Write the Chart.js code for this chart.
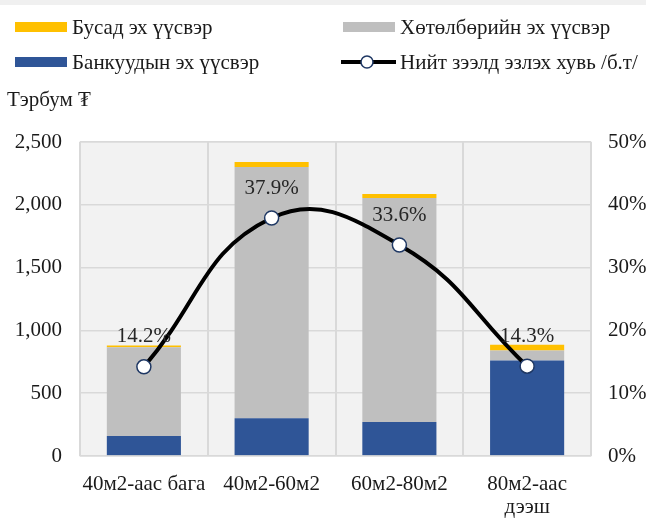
<!DOCTYPE html>
<html>
<head>
<meta charset="utf-8">
<script src="https://cdn.jsdelivr.net/npm/chart.js@4"></script>
<style>
  body { margin: 0; background: #fff; }
  #wrap { position: relative; width: 646px; height: 520px; }
  #topstrip { position: absolute; left: 0; top: 0; width: 646px; height: 5px; background: #f0f0f0; }
</style>
</head>
<body>
<div id="wrap">
  <canvas id="housingChart" width="646" height="520"></canvas>
  <div id="topstrip"></div>
</div>
<script>
const categories = ['40м2-аас бага', '40м2-60м2', '60м2-80м2', ['80м2-аас', 'дээш']];
const bankSource = [160, 300, 270, 760];
const programSource = [705, 2000, 1785, 80];
const otherSource = [15, 40, 30, 45];
const loanShare = [14.2, 37.9, 33.6, 14.3];
const unitLabel = 'Тэрбум ₮';

const serif = 'Liberation Serif';
const textFont = '21px "Liberation Serif", "DejaVu Serif", serif';

const plotBackground = {
    id: 'plotBackground',
    beforeDraw(chart) {
        const { ctx, chartArea: a } = chart;
        ctx.save();
        ctx.fillStyle = '#f2f2f2';
        ctx.fillRect(a.left, a.top, a.right - a.left, a.bottom - a.top);
        ctx.restore();
    },
    afterDraw(chart) {
        const { ctx, chartArea: a } = chart;
        ctx.save();
        ctx.strokeStyle = '#d9d9d9';
        ctx.lineWidth = 1;
        ctx.strokeRect(a.left, a.top, a.right - a.left, a.bottom - a.top);
        ctx.restore();
    }
};

// legend in two columns + unit caption, drawn on the canvas
const sideLegend = {
    id: 'sideLegend',
    afterDraw(chart) {
        const ctx = chart.ctx;
        const ds = chart.data.datasets;
        const items = [
            { ds: ds[2], x: 15, y: 27 },
            { ds: ds[1], x: 343, y: 27 },
            { ds: ds[0], x: 15, y: 62 },
            { ds: ds[3], x: 343, y: 62 }
        ];
        ctx.save();
        ctx.font = textFont;
        ctx.textBaseline = 'middle';
        items.forEach(it => {
            if (it.ds.type === 'line') {
                ctx.strokeStyle = '#000';
                ctx.lineWidth = 3.8;
                ctx.beginPath();
                ctx.moveTo(it.x - 2, it.y);
                ctx.lineTo(it.x + 53, it.y);
                ctx.stroke();
                ctx.beginPath();
                ctx.arc(it.x + 24, it.y, 6, 0, Math.PI * 2);
                ctx.fillStyle = '#fff';
                ctx.fill();
                ctx.strokeStyle = '#1f3864';
                ctx.lineWidth = 1.5;
                ctx.stroke();
            } else {
                ctx.fillStyle = it.ds.backgroundColor;
                ctx.fillRect(it.x, it.y - 5, 52, 10);
            }
            ctx.fillStyle = '#1a1a1a';
            ctx.fillText(it.ds.label, it.x + 57, it.y + 1);
        });
        ctx.fillText(unitLabel, 7, 100);
        ctx.restore();
    }
};

const shareLabels = {
    id: 'shareLabels',
    afterDatasetsDraw(chart) {
        const meta = chart.getDatasetMeta(3);
        const ctx = chart.ctx;
        ctx.save();
        ctx.font = textFont;
        ctx.fillStyle = '#262626';
        ctx.textAlign = 'center';
        ctx.textBaseline = 'middle';
        meta.data.forEach((pt, i) => {
            ctx.fillText(loanShare[i].toFixed(1) + '%', pt.x, pt.y - 30);
        });
        ctx.restore();
    }
};

new Chart(document.getElementById('housingChart'), {
    type: 'bar',
    data: {
        labels: categories,
        datasets: [
            { label: 'Банкуудын эх үүсвэр', data: bankSource, backgroundColor: '#2F5597', order: 1, yAxisID: 'y' },
            { label: 'Хөтөлбөрийн эх үүсвэр', data: programSource, backgroundColor: '#BFBFBF', order: 2, yAxisID: 'y' },
            { label: 'Бусад эх үүсвэр', data: otherSource, backgroundColor: '#FFC000', order: 3, yAxisID: 'y' },
            {
                type: 'line',
                label: 'Нийт зээлд эзлэх хувь /б.т/',
                data: loanShare,
                yAxisID: 'y1',
                order: 0,
                borderColor: '#000',
                borderWidth: 4,
                tension: 0.45,
                pointRadius: 7,
                pointBackgroundColor: '#fff',
                pointBorderColor: '#1f3864',
                pointBorderWidth: 1.5
            }
        ]
    },
    options: {
        responsive: false,
        animation: false,
        layout: { padding: { top: 142, left: 0, right: 0, bottom: 0 } },
        datasets: { bar: { barPercentage: 0.58, categoryPercentage: 1 } },
        plugins: { legend: { display: false }, tooltip: { enabled: false } },
        scales: {
            x: {
                stacked: true,
                afterFit(s) { s.height = 64; },
                grid: { color: '#d9d9d9', lineWidth: 2, drawTicks: false },
                border: { display: false },
                ticks: {
                    color: '#1a1a1a', font: { family: serif, size: 21, lineHeight: 1.1 },
                    padding: 17, maxRotation: 0, autoSkip: false
                }
            },
            y: {
                stacked: true,
                min: 0, max: 2500,
                afterFit(s) { s.width = 80; },
                grid: { color: '#d9d9d9', lineWidth: 1.5, drawTicks: false },
                border: { display: false },
                ticks: {
                    stepSize: 500, padding: 18, color: '#1a1a1a',
                    font: { family: serif, size: 21 },
                    callback: v => v.toLocaleString('en-US')
                }
            },
            y1: {
                position: 'right',
                min: 0, max: 50,
                afterFit(s) { s.width = 55; },
                grid: { display: false },
                border: { display: false },
                ticks: {
                    stepSize: 10, padding: 9, color: '#1a1a1a',
                    font: { family: serif, size: 21 },
                    callback: v => v + '%'
                }
            }
        }
    },
    plugins: [plotBackground, sideLegend, shareLabels]
});
</script>
</body>
</html>
